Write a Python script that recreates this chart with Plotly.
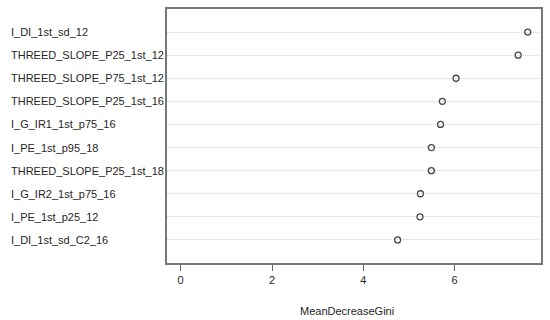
import plotly.graph_objects as go

variables = [
    "I_DI_1st_sd_12",
    "THREED_SLOPE_P25_1st_12",
    "THREED_SLOPE_P75_1st_12",
    "THREED_SLOPE_P25_1st_16",
    "I_G_IR1_1st_p75_16",
    "I_PE_1st_p95_18",
    "THREED_SLOPE_P25_1st_18",
    "I_G_IR2_1st_p75_16",
    "I_PE_1st_p25_12",
    "I_DI_1st_sd_C2_16",
]
mean_decrease_gini = [7.60, 7.39, 6.03, 5.73, 5.69, 5.49, 5.49, 5.25, 5.24, 4.75]
x_ticks = [0, 2, 4, 6]
x_title = "MeanDecreaseGini"

n = len(variables)
ypos = [n - i for i in range(n)]

W, H = 550, 320
L, R, T, B = 167, 7, 7, 57
FONT = "Liberation Sans, Arial, sans-serif"
TXT = "#262626"

fig = go.Figure()
fig.add_trace(go.Scatter(
    x=mean_decrease_gini, y=ypos, mode="markers",
    marker=dict(symbol="circle-open", size=6, color="#4a4a4a", line=dict(width=1.3, color="#4a4a4a")),
    showlegend=False, hoverinfo="skip",
))

pw = W - L - R
for v, yy in zip(variables, ypos):
    fig.add_annotation(
        x=(8 - L) / pw, xref="paper", y=yy, yref="y",
        text=v, showarrow=False, xanchor="left", yanchor="middle",
        font=dict(family=FONT, size=11, color=TXT),
    )

fig.add_annotation(
    x=(348 - L) / pw, xref="paper", y=-(311 - (H - B)) / (H - T - B), yref="paper",
    text=x_title, showarrow=False, xanchor="center", yanchor="middle",
    font=dict(family=FONT, size=11, color=TXT),
)

fig.update_layout(
    width=W, height=H,
    margin=dict(l=L, r=R, t=T, b=B, pad=0),
    paper_bgcolor="white", plot_bgcolor="white",
    font=dict(family=FONT, size=11, color=TXT),
    xaxis=dict(
        range=[-0.299, 7.89], tickvals=x_ticks, ticktext=[str(t) for t in x_ticks],
        ticks="outside", ticklen=6, tickcolor="#666666", tickwidth=1,
        showgrid=False, zeroline=False,
        showline=True, mirror=True, linecolor="#777777", linewidth=1.5,
        tickfont=dict(family=FONT, size=11, color=TXT),
    ),
    yaxis=dict(
        range=[0, 11], tickvals=ypos, showticklabels=False, ticks="",
        showgrid=True, gridcolor="#d4d4d4", griddash="1px,1px", gridwidth=1,
        zeroline=False,
        showline=True, mirror=True, linecolor="#777777", linewidth=1.5,
    ),
)

fig.write_html("out.html", config={"displayModeBar": False},
               post_script="document.body.style.margin='0px';")
